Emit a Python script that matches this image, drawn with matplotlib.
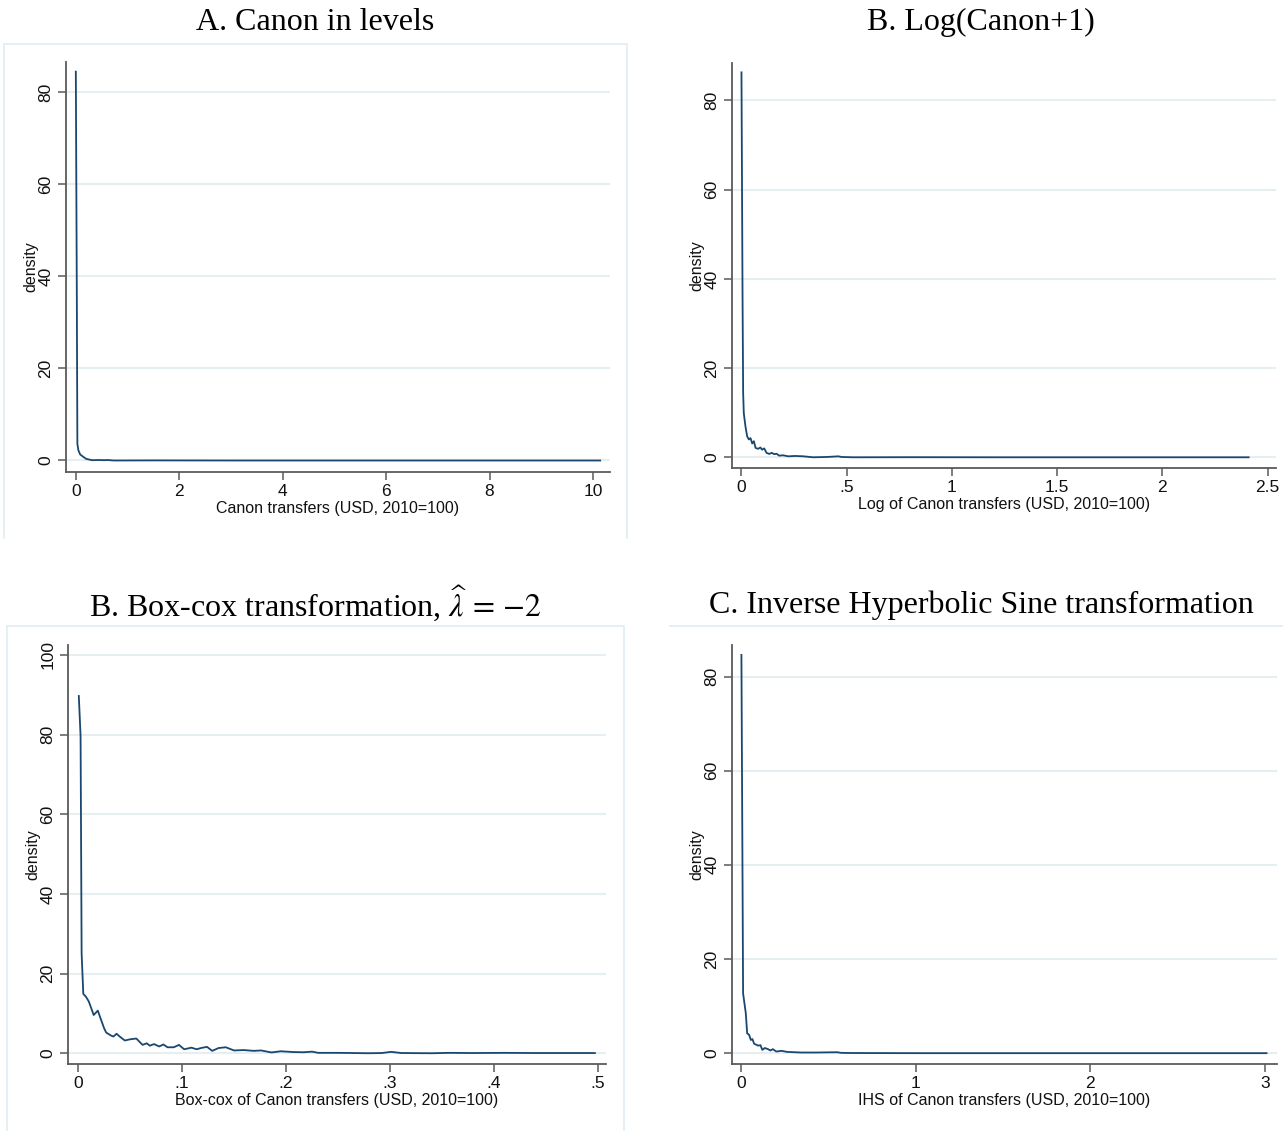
import numpy as np
import matplotlib
matplotlib.use("Agg")
import matplotlib.pyplot as plt
from matplotlib.lines import Line2D

plt.rcParams['font.family'] = ['Liberation Sans', 'DejaVu Sans']
plt.rcParams['mathtext.fontset'] = 'stix'

W, H = 1283, 1131

# --- data ---
# A. levels
lev_x = [0.0, 0.019, 0.03, 0.05, 0.084, 0.135, 0.2, 0.31, 0.45, 0.54, 0.62, 0.73, 1.5, 3.0, 5.0, 7.0, 9.0, 10.14]
lev_y = [84.5, 36.4, 3.6, 2.2, 1.3, 0.87, 0.36, 0.07, 0.1, 0.07, 0.1, 0.0, 0.02, 0.0, 0.0, 0.0, 0.0, 0.0]
# B. log(canon+1)
log_x = [0.0, 0.005, 0.008, 0.011, 0.019, 0.027, 0.035, 0.043, 0.051, 0.059, 0.067, 0.079, 0.09,
         0.098, 0.108, 0.119, 0.132, 0.143, 0.156, 0.167, 0.179, 0.198, 0.222, 0.254, 0.294,
         0.341, 0.405, 0.46, 0.476, 0.53, 0.8, 1.2, 1.6, 2.0, 2.41]
log_y = [86.3, 36.8, 14.4, 9.9, 6.9, 4.7, 4.0, 4.3, 3.1, 3.6, 2.1, 1.9, 2.2,
         1.7, 2.0, 1.0, 0.75, 1.0, 0.7, 0.8, 0.37, 0.45, 0.22, 0.3, 0.22,
         0.0, 0.07, 0.22, 0.07, 0.0, 0.02, 0.0, 0.0, 0.0, 0.0]
# C. box-cox
bc_x = [0.0007, 0.0024, 0.0034, 0.005, 0.0075, 0.0103, 0.015, 0.019, 0.021, 0.025, 0.027, 0.032,
        0.034, 0.037, 0.040, 0.045, 0.050, 0.056, 0.062, 0.066, 0.069, 0.073, 0.078, 0.082,
        0.086, 0.092, 0.097, 0.102, 0.109, 0.114, 0.118, 0.124, 0.129, 0.135, 0.142, 0.150,
        0.159, 0.169, 0.176, 0.186, 0.195, 0.207, 0.217, 0.225, 0.231, 0.251, 0.279, 0.292,
        0.301, 0.311, 0.34, 0.358, 0.38, 0.41, 0.44, 0.47, 0.497]
bc_y = [89.7, 79.6, 25.1, 14.9, 14.2, 13.0, 9.6, 10.7, 9.2, 6.3, 5.2, 4.4,
        4.2, 4.9, 4.2, 3.2, 3.5, 3.7, 2.1, 2.5, 1.9, 2.3, 1.7, 2.2,
        1.5, 1.5, 2.1, 1.0, 1.4, 1.0, 1.3, 1.6, 0.6, 1.3, 1.5, 0.7,
        0.8, 0.6, 0.7, 0.2, 0.5, 0.3, 0.25, 0.4, 0.1, 0.1, 0.0, 0.05,
        0.35, 0.05, 0.0, 0.1, 0.05, 0.1, 0.05, 0.05, 0.05]
# D. IHS
ihs_x = [0.0, 0.0096, 0.025, 0.033, 0.044, 0.054, 0.063, 0.073, 0.096, 0.109, 0.12, 0.134,
         0.153, 0.166, 0.18, 0.2, 0.23, 0.26, 0.34, 0.43, 0.55, 0.57, 0.64, 1.02, 1.5, 2.0, 2.5, 3.01]
ihs_y = [84.6, 12.7, 8.5, 4.2, 3.9, 2.8, 3.0, 2.0, 1.6, 1.7, 0.7, 1.1,
         0.85, 0.57, 0.85, 0.35, 0.5, 0.28, 0.14, 0.14, 0.2, 0.07, 0.03, 0.0, 0.0, 0.0, 0.0, 0.0]

panels = [
    # title, xlabel, x, y, xticks, xticklabels, yticks, pixel box (l, r, t, b), xlim, ylim, title centre
    ("A. Canon in levels", "Canon transfers (USD, 2010=100)", lev_x, lev_y,
     [0, 2, 4, 6, 8, 10], ["0", "2", "4", "6", "8", "10"], [0, 20, 40, 60, 80],
     (66, 610, 62, 472), (-0.19, 10.33), (-2.5, 86.6), (315, 22)),
    ("B. Log(Canon+1)", "Log of Canon transfers (USD, 2010=100)", log_x, log_y,
     [0, 0.5, 1, 1.5, 2, 2.5], ["0", ".5", "1", "1.5", "2", "2.5"], [0, 20, 40, 60, 80],
     (732, 1276, 63, 468), (-0.045, 2.54), (-2.4, 88.4), (981, 22)),
    (r"B. Box-cox transformation, $\widehat{\lambda}\,=\,{-2}$", "Box-cox of Canon transfers (USD, 2010=100)", bc_x, bc_y,
     [0, 0.1, 0.2, 0.3, 0.4, 0.5], ["0", ".1", ".2", ".3", ".4", ".5"], [0, 20, 40, 60, 80, 100],
     (68, 606, 645, 1064), (-0.0097, 0.5077), (-2.7, 102.5), (315, 603)),
    ("C. Inverse Hyperbolic Sine transformation", "IHS of Canon transfers (USD, 2010=100)", ihs_x, ihs_y,
     [0, 1, 2, 3], ["0", "1", "2", "3"], [0, 20, 40, 60, 80],
     (732, 1277, 645, 1064), (-0.054, 3.07), (-2.3, 86.7), (981, 605)),
]

fig = plt.figure(figsize=(W / 100, H / 100), dpi=100)
fig.patch.set_facecolor("white")

frame_col = "#e4eef2"
grid_col = "#e6eef2"
line_col = "#1a476f"
axis_col = "#5a5a5a"


def fx(p):
    return p / W


def fy(p):
    return 1 - p / H


# light graph-region frames
for xs, ys in [([4, 627, 627], [44, 44, 538]), ([4, 4], [44, 538]),
               ([7, 624, 624], [626, 626, 1131]), ([7, 7], [626, 1131]),
               ([670, 1283], [626, 626])]:
    fig.add_artist(Line2D([fx(v) for v in xs], [fy(v) for v in ys], color=frame_col, lw=1.3))

for (title, xlabel, xs, ys, xt, xtl, yt, box, xlim, ylim, tc) in panels:
    l, r, t, b = box
    ax = fig.add_axes([l / W, 1 - b / H, (r - l) / W, (b - t) / H])
    ax.plot(xs, ys, color=line_col, lw=1.3, zorder=3)
    ax.set_xlim(*xlim)
    ax.set_ylim(*ylim)
    ax.set_xticks(xt)
    ax.set_xticklabels(xtl)
    ax.set_yticks(yt)
    ax.set_yticklabels([str(v) for v in yt], rotation=90, va="center")
    for v in yt:
        ax.axhline(v, color=grid_col, lw=1.5, zorder=1)
    for s in ["top", "right"]:
        ax.spines[s].set_visible(False)
    for s in ["left", "bottom"]:
        ax.spines[s].set_color(axis_col)
        ax.spines[s].set_linewidth(1.3)
    ax.tick_params(direction="out", length=6, width=1.1, color=axis_col,
                   labelsize=12.5, labelcolor="#111111", pad=3)
    ax.set_xlabel(xlabel, fontsize=11.5, labelpad=1, color="#111111")
    ax.set_ylabel("density", fontsize=11.5, labelpad=0, color="#111111")
    ax.set_facecolor("white")
    fig.text(fx(tc[0]), fy(tc[1]), title, ha="center", va="center",
             fontsize=23, family=["Liberation Serif", "DejaVu Serif"], color="black")

fig.savefig("out.png", dpi=100, facecolor="white")
